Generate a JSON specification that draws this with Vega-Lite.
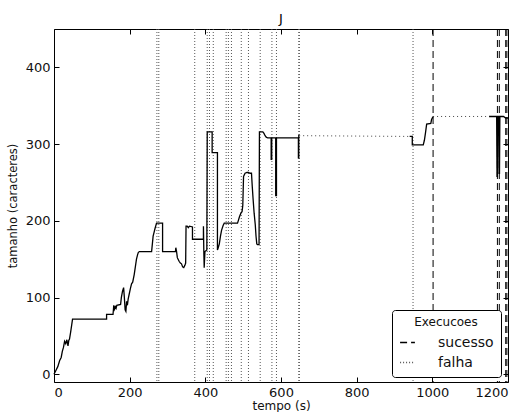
{
  "$schema": "https://vega.github.io/schema/vega-lite/v6.json",
  "width": 454,
  "height": 353,
  "autosize": {"type": "none"},
  "padding": {"left": 54, "top": 29, "right": 17, "bottom": 30},
  "background": "white",
  "title": {"text": "J", "fontSize": 13, "font": "DejaVu Sans", "fontWeight": "normal", "color": "#000000", "offset": 3},
  "datasets": {
    "execs": [
      {"t": 272, "tipo": "falha"}, {"t": 277, "tipo": "falha"}, {"t": 372, "tipo": "falha"},
      {"t": 405, "tipo": "falha"}, {"t": 411, "tipo": "falha"}, {"t": 421, "tipo": "falha"},
      {"t": 455, "tipo": "falha"}, {"t": 461, "tipo": "falha"}, {"t": 469, "tipo": "falha"},
      {"t": 495, "tipo": "falha"}, {"t": 514, "tipo": "falha"}, {"t": 545, "tipo": "falha"},
      {"t": 576, "tipo": "falha"}, {"t": 588, "tipo": "falha"}, {"t": 647, "tipo": "falha"},
      {"t": 648.5, "tipo": "falha"}, {"t": 949, "tipo": "falha"},
      {"t": 1002, "tipo": "sucesso"}, {"t": 1172, "tipo": "sucesso"}, {"t": 1177, "tipo": "sucesso"},
      {"t": 1194, "tipo": "sucesso"}, {"t": 1197, "tipo": "sucesso"}
    ],
    "lacuna": [
      {"t": 648, "v": 311, "seg": 1}, {"t": 940, "v": 310, "seg": 1},
      {"t": 1002, "v": 336, "seg": 2}, {"t": 1150, "v": 336, "seg": 2}
    ],
    "linha": [
      {"t": 0, "v": 0, "seg": 1}, {"t": 5, "v": 5, "seg": 1}, {"t": 10, "v": 10, "seg": 1}, {"t": 15, "v": 18, "seg": 1},
      {"t": 19, "v": 22, "seg": 1}, {"t": 22, "v": 30, "seg": 1}, {"t": 25, "v": 35, "seg": 1}, {"t": 28, "v": 43, "seg": 1},
      {"t": 31, "v": 40, "seg": 1}, {"t": 34, "v": 45, "seg": 1}, {"t": 37, "v": 37, "seg": 1}, {"t": 39, "v": 44, "seg": 1},
      {"t": 41, "v": 46, "seg": 1}, {"t": 44, "v": 55, "seg": 1}, {"t": 47, "v": 65, "seg": 1}, {"t": 49, "v": 72, "seg": 1},
      {"t": 139, "v": 72, "seg": 1}, {"t": 139, "v": 78, "seg": 1}, {"t": 156, "v": 78, "seg": 1}, {"t": 158, "v": 90, "seg": 1},
      {"t": 160, "v": 85, "seg": 1}, {"t": 162, "v": 88, "seg": 1}, {"t": 164, "v": 86, "seg": 1}, {"t": 166, "v": 90, "seg": 1},
      {"t": 176, "v": 91, "seg": 1}, {"t": 178, "v": 100, "seg": 1}, {"t": 181, "v": 108, "seg": 1}, {"t": 184, "v": 113, "seg": 1},
      {"t": 186, "v": 100, "seg": 1}, {"t": 188, "v": 84, "seg": 1}, {"t": 190, "v": 82, "seg": 1}, {"t": 192, "v": 95, "seg": 1},
      {"t": 194, "v": 90, "seg": 1}, {"t": 196, "v": 98, "seg": 1}, {"t": 199, "v": 105, "seg": 1}, {"t": 202, "v": 112, "seg": 1},
      {"t": 205, "v": 118, "seg": 1}, {"t": 208, "v": 120, "seg": 1}, {"t": 212, "v": 130, "seg": 1}, {"t": 215, "v": 140, "seg": 1},
      {"t": 218, "v": 150, "seg": 1}, {"t": 221, "v": 156, "seg": 1}, {"t": 223, "v": 159, "seg": 1}, {"t": 226, "v": 160, "seg": 1},
      {"t": 258, "v": 160, "seg": 1}, {"t": 260, "v": 170, "seg": 1}, {"t": 262, "v": 180, "seg": 1}, {"t": 264, "v": 184, "seg": 1},
      {"t": 267, "v": 190, "seg": 1}, {"t": 271, "v": 197, "seg": 1}, {"t": 287, "v": 197, "seg": 1}, {"t": 287, "v": 160, "seg": 1},
      {"t": 321, "v": 160, "seg": 1}, {"t": 322, "v": 165, "seg": 1}, {"t": 324, "v": 160, "seg": 1}, {"t": 326, "v": 152, "seg": 1},
      {"t": 328, "v": 150, "seg": 1}, {"t": 331, "v": 147, "seg": 1}, {"t": 334, "v": 145, "seg": 1}, {"t": 337, "v": 144, "seg": 1},
      {"t": 340, "v": 140, "seg": 1}, {"t": 343, "v": 139, "seg": 1}, {"t": 346, "v": 142, "seg": 1}, {"t": 348, "v": 145, "seg": 1},
      {"t": 349, "v": 193, "seg": 1}, {"t": 352, "v": 193, "seg": 1}, {"t": 355, "v": 191, "seg": 1}, {"t": 358, "v": 193, "seg": 1},
      {"t": 366, "v": 192, "seg": 1}, {"t": 366, "v": 176, "seg": 1}, {"t": 395, "v": 176, "seg": 1}, {"t": 395, "v": 193, "seg": 1},
      {"t": 396, "v": 160, "seg": 1}, {"t": 397, "v": 139, "seg": 1}, {"t": 398, "v": 150, "seg": 1}, {"t": 399, "v": 160, "seg": 1},
      {"t": 404, "v": 162, "seg": 1}, {"t": 405, "v": 316, "seg": 1}, {"t": 418, "v": 316, "seg": 1}, {"t": 418, "v": 289, "seg": 1},
      {"t": 432, "v": 289, "seg": 1}, {"t": 432, "v": 162, "seg": 1}, {"t": 434, "v": 165, "seg": 1}, {"t": 437, "v": 170, "seg": 1},
      {"t": 440, "v": 180, "seg": 1}, {"t": 443, "v": 188, "seg": 1}, {"t": 447, "v": 194, "seg": 1}, {"t": 450, "v": 197, "seg": 1},
      {"t": 485, "v": 197, "seg": 1}, {"t": 487, "v": 200, "seg": 1}, {"t": 490, "v": 205, "seg": 1}, {"t": 494, "v": 210, "seg": 1},
      {"t": 497, "v": 212, "seg": 1}, {"t": 499, "v": 220, "seg": 1}, {"t": 501, "v": 258, "seg": 1}, {"t": 505, "v": 262, "seg": 1},
      {"t": 510, "v": 263, "seg": 1}, {"t": 514, "v": 263, "seg": 1}, {"t": 518, "v": 262, "seg": 1}, {"t": 522, "v": 262, "seg": 1},
      {"t": 524, "v": 245, "seg": 1}, {"t": 526, "v": 230, "seg": 1}, {"t": 529, "v": 210, "seg": 1}, {"t": 532, "v": 195, "seg": 1},
      {"t": 534, "v": 180, "seg": 1}, {"t": 536, "v": 170, "seg": 1}, {"t": 538, "v": 169, "seg": 1}, {"t": 542, "v": 169, "seg": 1},
      {"t": 543, "v": 316, "seg": 1}, {"t": 552, "v": 316, "seg": 1}, {"t": 555, "v": 314, "seg": 1}, {"t": 558, "v": 311, "seg": 1},
      {"t": 561, "v": 309, "seg": 1}, {"t": 565, "v": 308, "seg": 1}, {"t": 574, "v": 308, "seg": 1}, {"t": 574, "v": 280, "seg": 1},
      {"t": 575.5, "v": 280, "seg": 1}, {"t": 575.5, "v": 308, "seg": 1}, {"t": 586, "v": 308, "seg": 1}, {"t": 586, "v": 233, "seg": 1},
      {"t": 588, "v": 233, "seg": 1}, {"t": 588, "v": 308, "seg": 1}, {"t": 646, "v": 308, "seg": 1}, {"t": 646, "v": 282, "seg": 1},
      {"t": 647, "v": 282, "seg": 1}, {"t": 647, "v": 311, "seg": 1}, {"t": 648, "v": 311, "seg": 1},
      {"t": 940, "v": 310, "seg": 2}, {"t": 947, "v": 310, "seg": 2}, {"t": 947, "v": 299, "seg": 2}, {"t": 976, "v": 299, "seg": 2},
      {"t": 979, "v": 305, "seg": 2}, {"t": 982, "v": 315, "seg": 2}, {"t": 985, "v": 326, "seg": 2}, {"t": 996, "v": 327, "seg": 2},
      {"t": 998, "v": 332, "seg": 2}, {"t": 1002, "v": 336, "seg": 2},
      {"t": 1150, "v": 336, "seg": 3}, {"t": 1170, "v": 336, "seg": 3}, {"t": 1171, "v": 258, "seg": 3}, {"t": 1172, "v": 258, "seg": 3},
      {"t": 1172.5, "v": 336, "seg": 3}, {"t": 1175.5, "v": 336, "seg": 3}, {"t": 1176.5, "v": 262, "seg": 3}, {"t": 1177.5, "v": 262, "seg": 3},
      {"t": 1178.5, "v": 336, "seg": 3}, {"t": 1188, "v": 336, "seg": 3}, {"t": 1194, "v": 334, "seg": 3}, {"t": 1200, "v": 334, "seg": 3}
    ]
  },
  "layer": [
    {
      "data": {"name": "execs"},
      "mark": {"type": "rule", "strokeWidth": 1},
      "encoding": {
        "x": {"field": "t", "type": "quantitative", "scale": {"domain": [0, 1200], "nice": false, "zero": false},
              "axis": {"orient": "top", "labels": false, "title": null, "values": [0, 200, 400, 600, 800, 1000, 1200]}},
        "strokeDash": {"field": "tipo", "type": "nominal", "title": "Execucoes",
                       "scale": {"domain": ["sucesso", "falha"], "range": [[7, 4], [1, 2]]}},
        "color": {"field": "tipo", "type": "nominal", "title": "Execucoes",
                  "scale": {"domain": ["sucesso", "falha"], "range": ["#000000", "#555555"]}}
      }
    },
    {
      "data": {"name": "lacuna"},
      "mark": {"type": "line", "strokeDash": [1, 3], "color": "#444", "strokeWidth": 1},
      "encoding": {
        "x": {"field": "t", "type": "quantitative", "axis": null},
        "y": {"field": "v", "type": "quantitative", "scale": {"domain": [-10, 450], "nice": false, "zero": false},
              "axis": {"orient": "right", "labels": false, "title": null, "values": [0, 100, 200, 300, 400]}},
        "detail": {"field": "seg"}
      }
    },
    {
      "data": {"name": "linha"},
      "mark": {"type": "line", "color": "#000", "strokeWidth": 1.3},
      "encoding": {
        "x": {"field": "t", "type": "quantitative", "title": "tempo (s)",
              "axis": {"orient": "bottom", "values": [0, 200, 400, 600, 800, 1000, 1200], "format": "d", "labelPadding": 9, "titlePadding": 1, "titleFontSize": 12}},
        "y": {"field": "v", "type": "quantitative", "title": "tamanho (caracteres)",
              "axis": {"orient": "left", "values": [0, 100, 200, 300, 400], "format": "d", "labelPadding": 9, "titlePadding": 7, "titleFontSize": 11.5}},
        "detail": {"field": "seg"},
        "order": {"value": null}
      }
    }
  ],
  "resolve": {"axis": {"x": "independent", "y": "independent"}},
  "config": {
    "view": {"stroke": "#000", "strokeWidth": 1},
    "title": {"color": "#000000"},
    "axis": {"labelFont": "DejaVu Sans", "labelFontSize": 13, "labelColor": "#111", "titleFont": "DejaVu Sans", "titleFontSize": 12, "titleFontWeight": "normal", "titleColor": "#111", "grid": false, "domain": false, "tickColor": "#000", "tickSize": -5, "tickWidth": 1},
    "legend": {
      "orient": "none", "legendX": 338, "legendY": 281,
      "fillColor": "white", "strokeColor": "#000", "cornerRadius": 3, "padding": 7,
      "titleFont": "DejaVu Sans", "titleFontSize": 12, "titleFontWeight": "normal", "titleColor": "#111",
      "titleAlign": "center", "titleAnchor": "middle",
      "labelFont": "DejaVu Sans", "labelFontSize": 14, "labelColor": "#111", "labelOffset": 22,
      "symbolType": "stroke", "symbolSize": 220, "symbolStrokeWidth": 1.3, "rowPadding": 4
    }
  }
}
